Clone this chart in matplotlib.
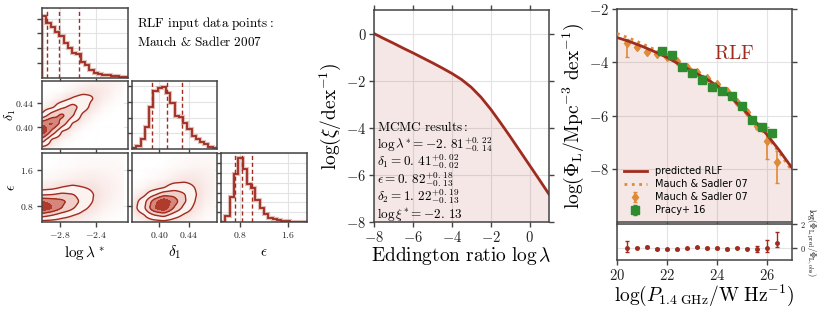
import numpy as np
import matplotlib
matplotlib.use('Agg')
import matplotlib.pyplot as plt
from matplotlib.ticker import FuncFormatter
from matplotlib.colors import LinearSegmentedColormap

plt.rcParams['mathtext.fontset'] = 'cm'
plt.rcParams['axes.edgecolor'] = '#444444'
plt.rcParams['axes.linewidth'] = 1.1
plt.rcParams['xtick.color'] = '#444444'
plt.rcParams['ytick.color'] = '#444444'
plt.rcParams['xtick.labelcolor'] = '#222222'
plt.rcParams['ytick.labelcolor'] = '#222222'

RED = '#a02b1f'
ORANGE = '#de8a36'
GREEN = '#2e8b2e'
GRID = '#e3e3e3'

# ---------------- corner plot data ----------------
lam_lim = (-3.0, -2.05)
d1_lim = (0.363, 0.478)
eps_xlim = (0.48, 1.92)
eps_ylim = (0.44, 1.98)

h_lam = [1.0, 0.88, 0.83, 0.75, 0.67, 0.57, 0.48, 0.40, 0.385, 0.257,
         0.203, 0.134, 0.08, 0.07, 0.043, 0.043, 0.027, 0.027, 0.01, 0.01]
h_d1 = [0.01, 0.054, 0.162, 0.35, 0.676, 0.935, 0.984, 1.0, 0.908, 0.746,
        0.54, 0.514, 0.416, 0.324, 0.216, 0.162, 0.108, 0.081, 0.038, 0.016]
h_eps = [0.005, 0.096, 0.39, 0.75, 1.0, 0.83, 0.59, 0.53, 0.34, 0.22,
         0.12, 0.07, 0.043, 0.027, 0.016, 0.01, 0.005, 0.005, 0.005, 0.005]

q_lam = [-2.95, -2.81, -2.59]
q_d1 = [0.39, 0.41, 0.43]
q_eps = [0.71, 0.83, 1.0]

# density grids: one list per x node, values along the y nodes
g_lam = [-3.0, -2.89, -2.78, -2.66, -2.55, -2.44, -2.33, -2.21, -2.1]
g_d1 = [0.365, 0.379, 0.393, 0.406, 0.42, 0.434, 0.448, 0.461, 0.475]
g_eps = [0.45, 0.6, 0.75, 0.9, 1.05, 1.2, 1.4, 1.65, 1.95]

dens_lam_d1 = [
    [0.4, 4.1, 9.9, 6.6, 1.1, 0.05, 0, 0, 0],
    [0.02, 0.6, 4.4, 8.0, 4.0, 0.5, 0.02, 0, 0],
    [0, 0.04, 0.8, 4.0, 5.8, 2.2, 0.2, 0, 0],
    [0, 0, 0.04, 0.64, 3.0, 3.7, 1.1, 0.12, 0],
    [0, 0, 0, 0.04, 0.5, 1.76, 1.6, 0.43, 0.03],
    [0, 0, 0, 0, 0.04, 0.37, 0.97, 0.7, 0.14],
    [0, 0, 0, 0, 0, 0.03, 0.2, 0.4, 0.22],
    [0, 0, 0, 0, 0, 0, 0.02, 0.09, 0.15],
    [0, 0, 0, 0, 0, 0, 0, 0.01, 0.05],
]
dens_lam_eps = [
    [0.4, 3.8, 9.7, 7.5, 2.4, 0.3, 0.02, 0, 0],
    [0.35, 2.9, 7.5, 6.7, 2.7, 0.5, 0.05, 0, 0],
    [0.2, 1.7, 5.0, 5.7, 3.3, 1.0, 0.1, 0.01, 0],
    [0.16, 1.0, 3.0, 4.0, 2.9, 1.25, 0.2, 0.02, 0],
    [0.08, 0.44, 1.3, 2.0, 1.75, 1.0, 0.25, 0.05, 0.01],
    [0.04, 0.19, 0.52, 0.9, 0.98, 0.74, 0.3, 0.06, 0.01],
    [0.01, 0.05, 0.14, 0.28, 0.4, 0.35, 0.2, 0.06, 0.01],
    [0, 0.01, 0.04, 0.09, 0.13, 0.15, 0.11, 0.05, 0.01],
    [0, 0, 0.01, 0.03, 0.04, 0.05, 0.04, 0.02, 0.01],
]
dens_d1_eps = [
    [0.01, 0.11, 0.29, 0.2, 0.06, 0.01, 0, 0, 0],
    [0.07, 0.75, 2.1, 1.7, 0.5, 0.06, 0, 0, 0],
    [0.3, 2.6, 6.9, 6.0, 2.2, 0.32, 0.02, 0, 0],
    [0.47, 3.4, 9.0, 9.0, 4.0, 0.8, 0.05, 0, 0],
    [0.24, 1.6, 4.5, 6.0, 4.2, 1.7, 0.2, 0.02, 0],
    [0.12, 0.65, 1.8, 2.9, 2.75, 1.65, 0.45, 0.05, 0],
    [0.05, 0.2, 0.49, 0.84, 1.0, 0.86, 0.46, 0.1, 0.01],
    [0.01, 0.03, 0.09, 0.18, 0.26, 0.3, 0.24, 0.1, 0.02],
    [0, 0.01, 0.02, 0.04, 0.07, 0.09, 0.1, 0.06, 0.02],
]
levels = [0.1, 0.3, 0.55]

# ---------------- Eddington ratio distribution ----------------
log_lam = [-8, -7.5, -7, -6.5, -6, -5.5, -5, -4.5, -4, -3.5, -3, -2.5,
           -2, -1.5, -1, -0.5, 0, 0.5, 1]
log_xi = [0.0, -0.21, -0.41, -0.62, -0.82, -1.03, -1.24, -1.46, -1.69,
          -1.95, -2.28, -2.70, -3.21, -3.78, -4.37, -4.98, -5.59, -6.20, -6.82]
mcmc_lines = [r'$\mathrm{MCMC\ results:}$',
              r'$\log\lambda^{*}=-2.\,81^{+0.\,22}_{-0.\,14}$',
              r'$\delta_1=0.\,41^{+0.\,02}_{-0.\,02}$',
              r'$\epsilon=0.\,82^{+0.\,18}_{-0.\,13}$',
              r'$\delta_2=1.\,22^{+0.\,19}_{-0.\,13}$',
              r'$\log\xi^{*}=-2.\,13$']

# ---------------- radio luminosity function ----------------
logP = [20, 20.5, 21, 21.5, 22, 22.5, 23, 23.5, 24, 24.5, 25, 25.5, 26, 26.5, 27]
rlf_pred = [-3.07, -3.22, -3.40, -3.60, -3.82, -4.08, -4.33, -4.58, -4.88,
            -5.27, -5.72, -6.20, -6.72, -7.32, -7.97]
rlf_ms07 = [-2.92, -3.10, -3.30, -3.52, -3.76, -4.02, -4.28, -4.55, -4.86,
            -5.25, -5.71, -6.22, -6.78, -7.40, -8.08]

ms_x = [20.4, 20.8, 21.2, 21.6, 22.0, 22.4, 22.8, 23.2, 23.6, 24.0, 24.4,
        24.8, 25.2, 25.6, 26.0, 26.4]
ms_y = [-3.29, -3.41, -3.60, -3.69, -3.79, -3.96, -4.17, -4.36, -4.59,
        -4.81, -5.08, -5.50, -5.88, -6.38, -6.94, -7.76]
ms_lo = [0.52, 0.08, 0.06, 0.05, 0.04, 0.04, 0.04, 0.04, 0.04, 0.04, 0.05,
         0.06, 0.07, 0.12, 0.69, 0.79]
ms_hi = [0.15, 0.08, 0.06, 0.05, 0.04, 0.04, 0.04, 0.04, 0.04, 0.04, 0.05,
         0.06, 0.07, 0.1, 0.5, 0.44]

pr_x = [21.8, 22.2, 22.6, 23.0, 23.4, 23.8, 24.2, 24.6, 25.0, 25.4, 25.8, 26.2]
pr_y = [-3.56, -3.72, -4.16, -4.41, -4.65, -4.92, -5.09, -5.27, -5.66,
        -6.16, -6.44, -6.67]
pr_err = [0.04, 0.03, 0.03, 0.03, 0.03, 0.03, 0.03, 0.03, 0.04, 0.05, 0.06, 0.12]

res_x = ms_x
res_y = [0.0, 0.03, 0.09, -0.09, -0.12, -0.12, -0.03, 0.06, 0.0, 0.0,
         -0.09, 0.03, -0.06, -0.05, -0.03, 0.44]
res_lo = [0.3, 0.05, 0.05, 0.05, 0.05, 0.05, 0.05, 0.05, 0.05, 0.05, 0.05,
          0.05, 0.05, 0.25, 0.3, 0.35]
res_hi = [0.6, 0.05, 0.05, 0.05, 0.05, 0.05, 0.05, 0.05, 0.05, 0.05, 0.05,
          0.05, 0.05, 0.25, 0.7, 0.9]


def mfmt(fmt):
    return FuncFormatter(lambda v, p: '$' + (fmt % v) + '$')


def box(z, k, axis):
    pad = [(0, 0), (0, 0)]
    pad[axis] = (k // 2, k // 2)
    p = np.pad(z, pad, mode='edge')
    n = z.shape[axis]
    return sum(np.take(p, range(i, i + n), axis=axis) for i in range(k)) / k


def upsample(xs, ys, cols, n=90):
    z = np.array(cols, dtype=float).T
    fx = np.linspace(xs[0], xs[-1], n)
    fy = np.linspace(ys[0], ys[-1], n)
    z = np.array([np.interp(fx, xs, r) for r in z])
    z = np.array([np.interp(fy, ys, c) for c in z.T]).T
    for _ in range(2):
        z = box(box(z, 3, 0), 3, 1)
    return fx, fy, z / z.max()


haze_cmap = LinearSegmentedColormap.from_list('haze', ['#ffffff', '#f6dfdb'])

W, H = 830, 313
fig = plt.figure(figsize=(8.3, 3.13), dpi=100)


def add_ax(x0, y0, x1, y1):
    return fig.add_axes([x0 / W, 1 - y1 / H, (x1 - x0) / W, (y1 - y0) / H])


def style(ax, fs):
    ax.set_axisbelow(True)
    ax.grid(True, color=GRID, lw=0.8)
    ax.tick_params(direction='out', length=3.5, width=1, labelsize=fs, pad=2)


cols = [(42, 128), (132, 217), (221, 307)]
rows = [(8, 78), (81, 149), (153, 222)]
xlims = [lam_lim, d1_lim, eps_xlim]
xticks = [[-2.8, -2.4], [0.40, 0.44], [0.8, 1.6]]
xfmts = ['%.1f', '%.2f', '%.1f']
names = [r'$\log\lambda^*$', r'$\delta_1$', r'$\epsilon$']

hists = [h_lam, h_d1, h_eps]
quants = [q_lam, q_d1, q_eps]
htop = [1.13, 1.10, 1.085]
hstep = [0.24, 0.254, 0.154]

for i in range(3):
    ax = add_ax(cols[i][0], rows[i][0], cols[i][1], rows[i][1])
    style(ax, 7)
    edges = np.linspace(xlims[i][0], xlims[i][1], len(hists[i]) + 1)
    ax.stairs(hists[i], edges, color=RED, lw=3, alpha=0.3)
    ax.stairs(hists[i], edges, color=RED, lw=1.3)
    for q in quants[i]:
        ax.axvline(q, color=RED, ls='--', lw=1, dashes=(3, 2))
    ax.set_xlim(xlims[i])
    ax.set_ylim(0, htop[i])
    ax.set_yticks(np.arange(hstep[i], htop[i], hstep[i]))
    ax.set_yticklabels([])
    ax.set_xticks(xticks[i])
    if i == 2:
        ax.xaxis.set_major_formatter(mfmt(xfmts[i]))
        ax.set_xlabel(names[i], fontsize=11, labelpad=3)
    else:
        ax.set_xticklabels([])

pairs = [(1, 0, g_lam, g_d1, dens_lam_d1, d1_lim),
         (2, 0, g_lam, g_eps, dens_lam_eps, eps_ylim),
         (2, 1, g_d1, g_eps, dens_d1_eps, eps_ylim)]
yticks = {1: [0.40, 0.44], 2: [0.8, 1.6]}
yfmts = {1: '%.2f', 2: '%.1f'}
for r, c, xs, ys, dens, ylim in pairs:
    ax = add_ax(cols[c][0], rows[r][0], cols[c][1], rows[r][1])
    style(ax, 7)
    fx, fy, z = upsample(xs, ys, dens)
    haze = np.clip(z / levels[0], 0, 1) ** 0.5
    ax.pcolormesh(fx, fy, haze, cmap=haze_cmap, shading='gouraud', vmin=0, vmax=1)
    ax.contourf(fx, fy, z, levels=[levels[0], levels[1], levels[2], 0.8, 1.01],
                colors=['#fcf3f1', '#f0cfc9', '#d6867a', '#b03a2c'])
    ax.contour(fx, fy, z, levels=levels, colors=RED, linewidths=1)
    ax.set_xlim(xlims[c])
    ax.set_ylim(ylim)
    ax.set_xticks(xticks[c])
    ax.set_yticks(yticks[r])
    if c == 0:
        ax.yaxis.set_major_formatter(mfmt(yfmts[r]))
        ax.set_ylabel(names[r], fontsize=10)
        ax.yaxis.set_label_coords(-0.275, 0.5)
    else:
        ax.set_yticklabels([])
    if r == 2:
        ax.xaxis.set_major_formatter(mfmt(xfmts[c]))
        ax.set_xlabel(names[c], fontsize=11, labelpad=3)
    else:
        ax.set_xticklabels([])

fig.text(137 / W, 1 - 27 / H, r'$\mathrm{RLF\ input\ data\ points:}$', fontsize=9.5,
         va='baseline')
fig.text(137 / W, 1 - 46 / H, r'$\mathrm{Mauch}\ &\ \mathrm{Sadler\ 2007}$', fontsize=9.5,
         va='baseline')

# ---------------- middle panel ----------------
ax = add_ax(374, 10, 549, 222)
style(ax, 10.5)
ax.tick_params(top=True, right=True)
ax.plot(log_lam, log_xi, color=RED, lw=2)
ax.fill_between(log_lam, log_xi, -8, color=RED, alpha=0.11, lw=0)
ax.set_xlim(-8, 1)
ax.set_ylim(-8, 1)
ax.set_xticks([-8, -6, -4, -2, 0])
ax.set_yticks([0, -2, -4, -6, -8])
ax.xaxis.set_major_formatter(mfmt('%d'))
ax.yaxis.set_major_formatter(mfmt('%d'))
ax.set_xlabel(r'$\mathrm{Eddington\ ratio}\ \log\lambda$', fontsize=14, labelpad=0)
ax.set_ylabel(r'$\log(\xi/\mathrm{dex}^{-1})$', fontsize=14, labelpad=2)
for k, line in enumerate(mcmc_lines):
    ax.text(-7.87, -4.14 - 0.74 * k, line, fontsize=9.5, va='baseline')

# ---------------- right panel ----------------
ax = add_ax(617, 9, 792, 222)
style(ax, 10.5)
ax.tick_params(right=True)
ax.fill_between(logP, rlf_pred, -10, color=RED, alpha=0.11, lw=0)
ax.errorbar(ms_x, ms_y, yerr=[ms_lo, ms_hi], fmt='d', ms=4.5, color=ORANGE,
            capsize=1.5, lw=1.2, label='Mauch & Sadler 07', zorder=3)
ax.errorbar(pr_x, pr_y, yerr=pr_err, fmt='s', ms=5.5, color=GREEN,
            capsize=1.5, lw=1.2, label='Pracy+ 16', zorder=5)
ax.plot(logP, rlf_ms07, color=ORANGE, lw=2, ls=':', label='Mauch & Sadler 07', zorder=3)
ax.plot(logP, rlf_pred, color=RED, lw=2, label='predicted RLF', zorder=4)
ax.set_xlim(20, 27)
ax.set_ylim(-10, -2)
ax.set_xticks([20, 22, 24, 26])
ax.set_xticklabels([])
ax.set_yticks([-2, -4, -6, -8])
ax.yaxis.set_major_formatter(mfmt('%d'))
ax.set_ylabel(r'$\log(\Phi_{\rm L}/\mathrm{Mpc}^{-3}\ \mathrm{dex}^{-1})$', fontsize=14,
              labelpad=2)
ax.text(24.7, -3.66, r'$\mathrm{RLF}$', color=RED, fontsize=14, ha='center', va='center')
hd, lb = ax.get_legend_handles_labels()
order = [1, 0, 2, 3]
ax.legend([hd[o] for o in order], [lb[o] for o in order], loc='lower left',
          frameon=False, fontsize=7, handlelength=2.4, labelspacing=0.3,
          borderaxespad=0.3)

axr = add_ax(617, 224, 792, 260)
style(axr, 10.5)
axr.errorbar(res_x, res_y, yerr=[res_lo, res_hi], fmt='o', ms=2.5, color=RED,
             capsize=1.5, lw=1)
axr.set_xlim(20, 27)
axr.set_ylim(-1, 2)
axr.set_xticks([20, 22, 24, 26])
axr.xaxis.set_major_formatter(mfmt('%d'))
axr.set_yticks([0, 2])
axr.yaxis.tick_right()
axr.yaxis.set_label_position('right')
axr.tick_params(axis='y', labelsize=6)
axr.yaxis.set_major_formatter(mfmt('%d'))
axr.set_xlabel(r'$\log(P_{1.4\ \mathrm{GHz}}/\mathrm{W\ Hz}^{-1})$', fontsize=14, labelpad=0)
axr.set_ylabel(r'$\log(\Phi_{\rm L,pred}/\Phi_{\rm L,obs})$', fontsize=6, rotation=270,
               labelpad=9)

fig.savefig('out.png', dpi=100)
